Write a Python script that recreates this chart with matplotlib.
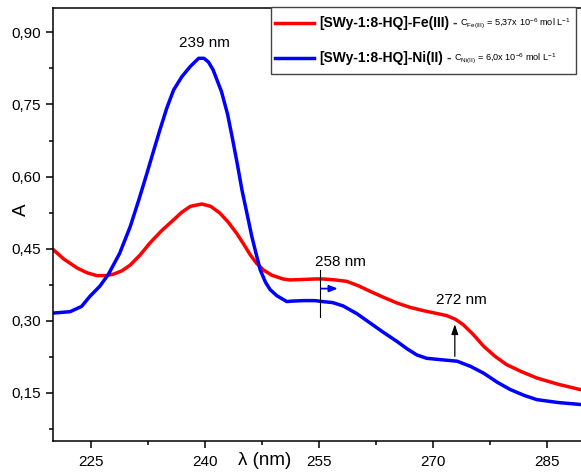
import matplotlib
matplotlib.use("Agg")
import matplotlib.pyplot as plt
from matplotlib.ticker import AutoMinorLocator, FixedLocator
from matplotlib.offsetbox import AnchoredOffsetbox, HPacker, VPacker, TextArea, DrawingArea
from matplotlib.lines import Line2D

plt.rcParams['font.family'] = ['Liberation Sans', 'DejaVu Sans']
plt.rcParams['mathtext.fontset'] = 'custom'
plt.rcParams['mathtext.rm'] = 'Liberation Sans'
plt.rcParams['mathtext.it'] = 'Liberation Sans'
plt.rcParams['mathtext.bf'] = 'Liberation Sans:bold'

# ---------------- data ----------------
wl_fe = [220.0, 221.5, 223.2, 224.5, 225.8, 227.0, 228.0, 229.1, 230.2, 231.5,
         232.8, 234.3, 235.9, 237.0, 238.1, 239.6, 240.8, 242.0, 243.1, 244.2,
         245.1, 246.0, 246.8, 247.7, 248.8, 250.3, 251.2, 253.0, 254.5, 255.6,
         257.2, 258.7, 260.2, 261.8, 263.5, 265.3, 267.0, 268.8, 270.3, 271.8,
         273.0, 274.0, 275.3, 276.7, 278.2, 279.7, 281.7, 283.7, 286.5, 289.4]
abs_fe = [0.449, 0.428, 0.410, 0.400, 0.394, 0.394, 0.397, 0.404, 0.416, 0.437,
          0.462, 0.487, 0.510, 0.526, 0.538, 0.543, 0.538, 0.524, 0.505, 0.482,
          0.460, 0.437, 0.420, 0.406, 0.395, 0.387, 0.385, 0.386, 0.387, 0.387,
          0.385, 0.382, 0.373, 0.361, 0.349, 0.337, 0.328, 0.321, 0.316, 0.311,
          0.303, 0.292, 0.272, 0.247, 0.226, 0.209, 0.194, 0.181, 0.168, 0.157]

wl_ni = [220.0, 222.3, 223.8, 224.9, 226.2, 227.3, 228.8, 230.2, 231.3, 232.4,
         233.3, 234.1, 235.0, 235.9, 237.0, 238.1, 239.2, 239.9, 240.5, 241.1,
         242.2, 243.0, 243.6, 244.3, 244.9, 245.6, 246.2, 246.8, 247.3, 248.0,
         248.6, 249.5, 250.8, 251.5, 253.0, 254.5, 255.5, 256.8, 258.2, 260.0,
         261.8, 263.5, 265.3, 266.6, 267.9, 269.2, 270.5, 271.8, 273.2, 275.0,
         276.7, 278.5, 280.2, 282.0, 283.7, 286.5, 289.4]
abs_ni = [0.316, 0.319, 0.330, 0.351, 0.372, 0.396, 0.440, 0.496, 0.550, 0.607,
          0.655, 0.697, 0.742, 0.780, 0.808, 0.829, 0.846, 0.846, 0.838, 0.822,
          0.777, 0.730, 0.683, 0.625, 0.572, 0.520, 0.475, 0.437, 0.406, 0.380,
          0.365, 0.352, 0.340, 0.341, 0.342, 0.342, 0.340, 0.338, 0.331, 0.315,
          0.295, 0.276, 0.257, 0.242, 0.229, 0.222, 0.220, 0.218, 0.216, 0.205,
          0.191, 0.172, 0.157, 0.145, 0.136, 0.130, 0.126]

x_ticks = [225, 240, 255, 270, 285]
x_ticklabels = ['225', '240', '255', '270', '285']
y_ticks = [0.15, 0.30, 0.45, 0.60, 0.75, 0.90]
y_ticklabels = ['0,15', '0,30', '0,45', '0,60', '0,75', '0,90']

label_fe = '[SWy-1:8-HQ]-Fe(III)'
conc_fe = r'C$_{\mathregular{Fe(III)}}$ = 5,37x 10$^{\mathregular{-6}}$ mol L$^{\mathregular{-1}}$'
label_ni = '[SWy-1:8-HQ]-Ni(II)'
conc_ni = r'C$_{\mathregular{Ni(II)}}$ = 6,0x 10$^{\mathregular{-6}}$ mol L$^{\mathregular{-1}}$'

color_fe = '#ff0000'
color_ni = '#0000ff'

# ---------------- figure ----------------
fig = plt.figure(figsize=(5.81, 4.75), dpi=100)
ax = fig.add_axes([52.7 / 581, 1 - 441 / 475, 1 - 52.7 / 581, (441 - 8.3) / 475])

ax.plot(wl_fe, abs_fe, color=color_fe, lw=2.5, solid_joinstyle='round')
ax.plot(wl_ni, abs_ni, color=color_ni, lw=2.5, solid_joinstyle='round')

ax.set_xlim(220.0, 289.5)
ax.set_ylim(0.05, 0.95)

ax.xaxis.set_major_locator(FixedLocator(x_ticks))
ax.set_xticklabels(x_ticklabels)
ax.yaxis.set_major_locator(FixedLocator(y_ticks))
ax.set_yticklabels(y_ticklabels)
ax.xaxis.set_minor_locator(AutoMinorLocator(2))
ax.yaxis.set_minor_locator(AutoMinorLocator(2))

ax.tick_params(which='major', direction='out', length=5, width=1.1, labelsize=11, pad=3.5)
ax.tick_params(which='minor', direction='out', length=2.8, width=1.1)
ax.tick_params(axis='x', which='major', pad=5)
for side in ['left', 'bottom', 'top']:
    ax.spines[side].set_linewidth(1.1)
ax.spines['right'].set_visible(False)

ax.set_xlabel('λ (nm)', fontsize=13.5)
ax.xaxis.set_label_coords(0.402, -0.026)
ax.set_ylabel('A', fontsize=13.5)
ax.yaxis.set_label_coords(-0.043, 0.534)

# annotations
ax.text(239.9, 0.878, '239 nm', fontsize=11, ha='center', va='center')
ax.text(257.8, 0.423, '258 nm', fontsize=11, ha='center', va='center')
ax.text(273.8, 0.344, '272 nm', fontsize=11, ha='center', va='center')
ax.plot([255.2, 255.2], [0.308, 0.406], color='black', lw=0.8)
ax.annotate('', xy=(257.5, 0.367), xytext=(255.3, 0.367),
            arrowprops=dict(arrowstyle='-|>,head_length=0.5,head_width=0.2',
                            color=color_ni, lw=1.3, shrinkA=0, shrinkB=0))
ax.annotate('', xy=(272.9, 0.293), xytext=(272.9, 0.226),
            arrowprops=dict(arrowstyle='-|>,head_length=0.6,head_width=0.2',
                            color='black', lw=0.9, shrinkA=0, shrinkB=0))

# legend
def row(color, label, conc):
    da = DrawingArea(28, 8, 0, 0)
    da.add_artist(Line2D([0, 28], [4, 4], color=color, lw=2.5))
    t1 = TextArea(label, textprops=dict(fontsize=10, fontweight='bold'))
    t2 = TextArea('-', textprops=dict(fontsize=10, fontweight='bold', color='#333333'))
    t3 = TextArea(conc, textprops=dict(fontsize=6.6))
    inner = HPacker(children=[t1, t2, t3], align='center', pad=0, sep=2.5)
    return HPacker(children=[da, inner], align='center', pad=0, sep=3.5)

def spacer(h):
    return DrawingArea(1, h, 0, 0)

vp = VPacker(children=[spacer(3.2), row(color_fe, label_fe, conc_fe), spacer(15.0),
                       row(color_ni, label_ni, conc_ni), spacer(3.5)],
             align='left', pad=0, sep=0)
box = AnchoredOffsetbox(loc='upper left', child=vp, pad=0.32, borderpad=0, frameon=True,
                        bbox_to_anchor=(270.7 / 581, 1 - 7.3 / 475),
                        bbox_transform=fig.transFigure)
box.patch.set_edgecolor('#444444')
box.patch.set_linewidth(1.0)
box.patch.set_boxstyle('square', pad=0)
ax.add_artist(box)

fig.savefig('out.png', dpi=100)
